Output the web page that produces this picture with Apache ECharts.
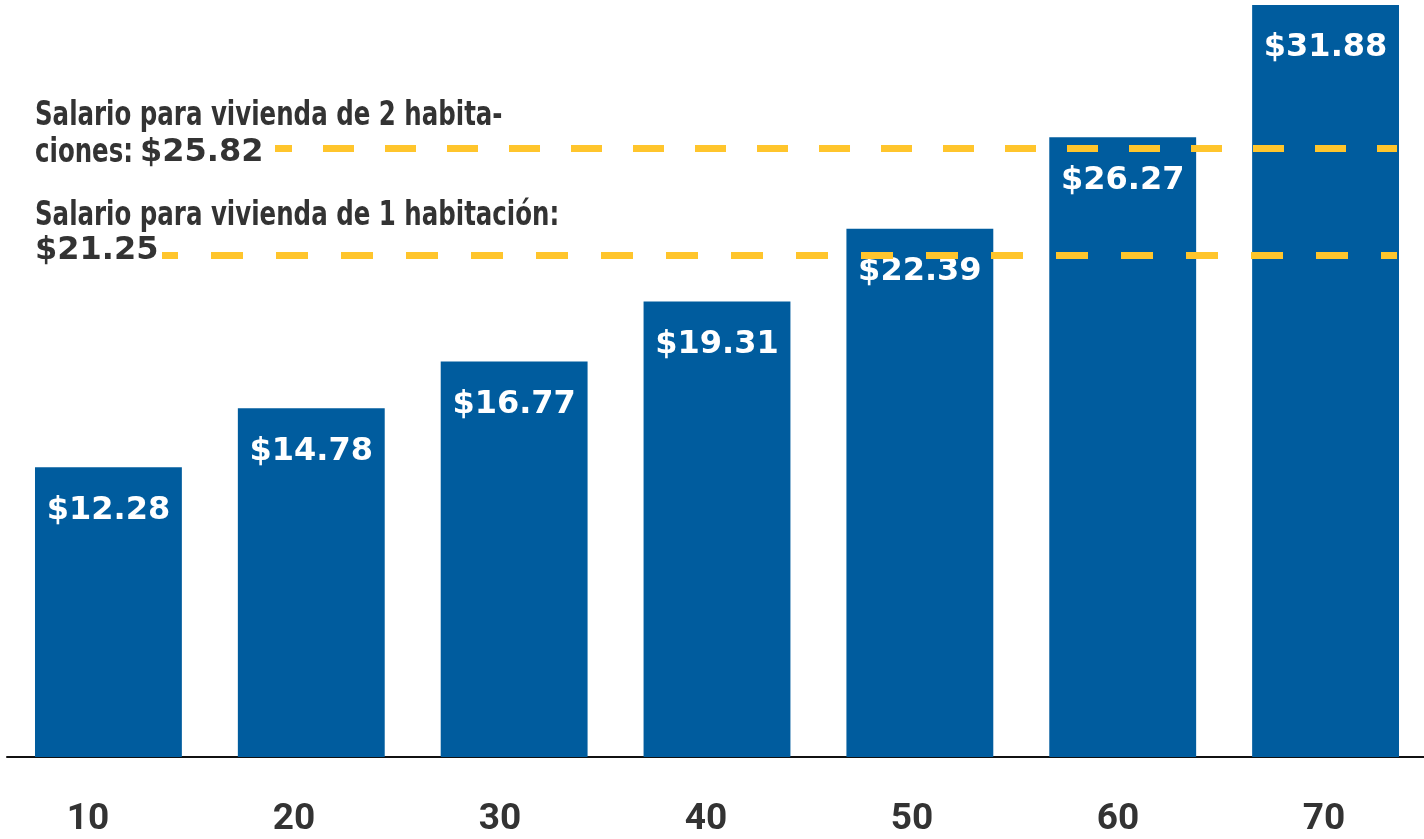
<!DOCTYPE html>
<html>
<head>
<meta charset="utf-8">
<script src="https://cdn.jsdelivr.net/npm/echarts@6/dist/echarts.min.js"></script>
<style>
html,body{margin:0;padding:0;background:#fff;}
#chart{width:1424px;height:839px;}
</style>
</head>
<body>
<div id="chart"></div>
<script>
const categories = ['10', '20', '30', '40', '50', '60', '70'];
const wages = [12.28, 14.78, 16.77, 19.31, 22.39, 26.27, 31.88];
const twoBedroomWage = 25.82;
const oneBedroomWage = 21.25;
const twoBedroomText = ['Salario para vivienda de 2 habita-', 'ciones:'];
const oneBedroomText = ['Salario para vivienda de 1 habitación:'];

const condFont = '"DejaVu Sans Condensed", "DejaVu Sans", sans-serif';
const numFont = '"DejaVu Sans", sans-serif';
const money = v => '$' + v.toFixed(2);

const chart = echarts.init(document.getElementById('chart'), null, {renderer: 'canvas'});

const condText = {fontFamily: condFont, fontWeight: 'bold', fontSize: 34, fill: '#333'};
const numText = {fontFamily: numFont, fontWeight: 'bold', fontSize: 32, fill: '#333'};
const sx = 0.8;

chart.setOption({
  animation: false,
  backgroundColor: '#fff',
  grid: [
    {left: 7, right: -3, top: 5, bottom: 82, containLabel: false, outerBoundsMode: 'none'},
    {left: -15, right: -3, top: 5, bottom: 82, containLabel: false, outerBoundsMode: 'none'}
  ],
  xAxis: [{
    type: 'category',
    gridIndex: 0,
    data: categories,
    axisLine: {show: true, lineStyle: {color: '#111', width: 2}},
    axisTick: {show: false},
    axisLabel: {show: false}
  }, {
    type: 'category',
    gridIndex: 1,
    data: categories,
    axisLine: {show: false},
    axisTick: {show: false},
    axisLabel: {
      color: '#333', fontFamily: 'Roboto, sans-serif', fontWeight: 'bold', fontSize: 37, margin: 44
    }
  }],
  yAxis: [
    {type: 'value', gridIndex: 0, min: 0, max: 'dataMax', show: false, splitLine: {show: false}},
    {type: 'value', gridIndex: 1, min: 0, max: 1, show: false, splitLine: {show: false}}
  ],
  series: [{
    type: 'bar',
    xAxisIndex: 0,
    yAxisIndex: 0,
    data: wages,
    barWidth: '72.4%',
    itemStyle: {color: '#005C9E'},
    label: {
      show: true,
      position: 'insideTop',
      distance: 27,
      color: '#fff',
      fontFamily: numFont,
      fontWeight: 'bold',
      fontSize: 32,
      formatter: p => money(p.value)
    },
    markLine: {
      silent: true,
      symbol: ['none', 'none'],
      z: 10,
      label: {show: false},
      emphasis: {disabled: true},
      data: [
        [{yAxis: twoBedroomWage, x: 275, lineStyle: {color: '#FFC52C', width: 7, type: [31, 31], dashOffset: 14}},
         {yAxis: twoBedroomWage, x: 1397}],
        [{yAxis: oneBedroomWage, x: 162, lineStyle: {color: '#FFC52C', width: 7, type: [32, 33], dashOffset: 16}},
         {yAxis: oneBedroomWage, x: 1397}]
      ]
    }
  }],
  graphic: [
    {type: 'text', x: 35, y: 99, scaleX: sx, z: 20, style: Object.assign({text: twoBedroomText[0]}, condText)},
    {type: 'text', x: 35, y: 136, scaleX: sx, z: 20, style: Object.assign({text: twoBedroomText[1]}, condText)},
    {type: 'text', x: 140, y: 137, z: 20, style: Object.assign({text: money(twoBedroomWage)}, numText)},
    {type: 'text', x: 35, y: 199, scaleX: sx, z: 20, style: Object.assign({text: oneBedroomText[0]}, condText)},
    {type: 'text', x: 35, y: 235, z: 20, style: Object.assign({text: money(oneBedroomWage)}, numText)}
  ]
});
</script>
</body>
</html>
